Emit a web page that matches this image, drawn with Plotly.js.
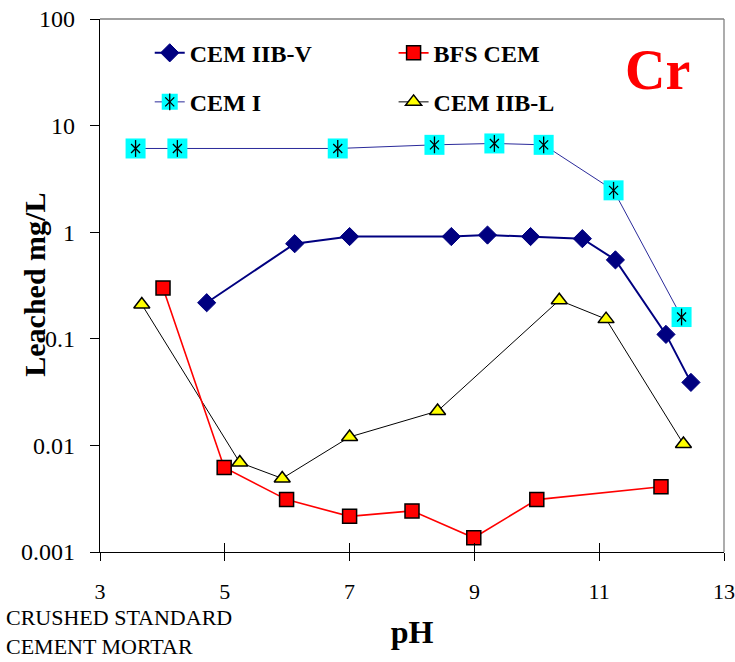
<!DOCTYPE html>
<html>
<head>
<meta charset="utf-8">
<script src="https://cdn.plot.ly/plotly-3.0.1.min.js"></script>
<style>html,body{margin:0;padding:0;background:#fff;}#chart{width:735px;height:662px;}</style>
</head>
<body>
<div id="chart"></div>
<script>
// ---- data ----
const seriesNames = ["CEM IIB-V", "BFS CEM", "CEM I", "CEM IIB-L"];

const phCemIIBV = [4.71, 6.12, 7.0, 8.63, 9.21, 9.90, 10.73, 11.26, 12.07, 12.47];
const crCemIIBV = [0.218, 0.78, 0.91, 0.91, 0.94, 0.91, 0.87, 0.55, 0.11, 0.039];

const phBfsCem = [4.01, 4.99, 5.99, 7.0, 8.0, 8.99, 10.0, 11.99];
const crBfsCem = [0.30, 0.0062, 0.0031, 0.00216, 0.00243, 0.00136, 0.0031, 0.0041];

const phCemI = [3.57, 4.24, 6.81, 8.36, 9.32, 10.11, 11.23, 12.32];
const crCemI = [6.1, 6.1, 6.1, 6.6, 6.8, 6.6, 2.47, 0.16];

const phCemIIBL = [3.67, 5.24, 5.92, 7.0, 8.41, 10.36, 11.11, 12.35];
const crCemIIBL = [0.21, 0.0069, 0.0049, 0.0120, 0.021, 0.23, 0.153, 0.0103];

const yTickVals = [0.001, 0.01, 0.1, 1, 10, 100];
const yTickText = ["0.001", "0.01", "0.1", "1", "10", "100"];
const xTickVals = [3, 5, 7, 9, 11, 13];

const elementLabel = "Cr";
const xTitle = "pH";
const yTitle = "Leached mg/L";
const noteLines = ["CRUSHED STANDARD", "CEMENT MORTAR"];

// ---- styling ----
const SERIF = "Liberation Serif";
const NAVY = "#000080";

const traces = [
  {
    x: phCemI, y: crCemI, name: seriesNames[2], legend: "legend3",
    mode: "lines+markers", type: "scatter",
    line: {color: "#2a2a9a", width: 1},
    marker: {symbol: "square", size: 20, color: "#00FFFF", line: {width: 0}}
  },
  {
    x: phCemI, y: crCemI, name: " ", legend: "legend5",
    mode: "markers", type: "scatter", hoverinfo: "skip",
    marker: {symbol: "x-thin-open", size: 9, color: "#000", line: {color: "#000", width: 1.3}}
  },
  {
    x: phCemI, y: crCemI, name: " ", legend: "legend6",
    mode: "markers", type: "scatter", hoverinfo: "skip",
    marker: {symbol: "line-ns-open", size: 12, color: "#000", line: {color: "#000", width: 1.3}}
  },
  {
    x: phCemIIBL, y: crCemIIBL, name: seriesNames[3], legend: "legend4",
    mode: "lines+markers", type: "scatter",
    line: {color: "#000000", width: 1},
    marker: {symbol: "triangle-up", size: 14, color: "#FFFF00", line: {color: "#000", width: 1.5}}
  },
  {
    x: phBfsCem, y: crBfsCem, name: seriesNames[1], legend: "legend2",
    mode: "lines+markers", type: "scatter",
    line: {color: "#FF0000", width: 1.6},
    marker: {symbol: "square", size: 14, color: "#FF0000", line: {color: "#000", width: 1.5}}
  },
  {
    x: phCemIIBV, y: crCemIIBV, name: seriesNames[0], legend: "legend",
    mode: "lines+markers", type: "scatter",
    line: {color: NAVY, width: 2},
    marker: {symbol: "diamond", size: 14, color: NAVY, line: {color: NAVY, width: 1}}
  },
  // helper trace for the second (inner) x tick set
  {x: [3, 13], y: [1, 1], xaxis: "x2", yaxis: "y", mode: "markers",
   marker: {opacity: 0}, showlegend: false, hoverinfo: "skip"}
];

const legFont = {family: SERIF, size: 24, color: "#000", weight: 700};
function leg(x, y) {
  return {x: x, y: y, xanchor: "left", yanchor: "top", bgcolor: "rgba(0,0,0,0)",
          borderwidth: 0, font: legFont, orientation: "v"};
}
const colX1 = 0.0797, colX2 = 0.4705, rowY1 = 0.978, rowY2 = 0.886;

const layout = {
  width: 735, height: 662,
  margin: {l: 100, r: 11, t: 19, b: 110},
  paper_bgcolor: "#fff", plot_bgcolor: "#fff",
  showlegend: true,
  font: {family: SERIF, color: "#000"},
  xaxis: {
    range: [3, 13], tickvals: xTickVals, ticktext: xTickVals.map(String),
    ticks: "outside", ticklen: 8, tickcolor: "#000", tickwidth: 1,
    showline: true, linecolor: "#000", linewidth: 1.3, mirror: false,
    showgrid: false, zeroline: false,
    tickfont: {family: SERIF, size: 22, color: "#000"},
    ticklabelstandoff: 11, ticklabeloverflow: "allow",
    title: {text: xTitle, font: {family: SERIF, size: 32, color: "#000", weight: 700}, standoff: 18}
  },
  xaxis2: {
    overlaying: "x", anchor: "y", side: "bottom", range: [3, 13], tickvals: xTickVals,
    ticks: "inside", ticklen: 9, tickcolor: "#000", tickwidth: 1,
    showticklabels: false, showline: false, showgrid: false, zeroline: false
  },
  yaxis: {
    type: "log", range: [-3, 2], tickvals: yTickVals, ticktext: yTickText,
    ticks: "outside", ticklen: 9, tickcolor: "#000", tickwidth: 1,
    showline: true, linecolor: "#000", linewidth: 1.3, mirror: false,
    showgrid: false, zeroline: false,
    tickfont: {family: SERIF, size: 24, color: "#000"},
    ticklabelstandoff: 10
  },
  legend: leg(colX1, rowY1),
  legend2: leg(colX2, rowY1),
  legend3: leg(colX1, rowY2),
  legend4: leg(colX2, rowY2),
  legend5: leg(colX1, rowY2),
  legend6: leg(colX1, rowY2),
  shapes: [
    {type: "line", xref: "paper", yref: "paper", x0: 0, x1: 1, y0: 1, y1: 1, line: {color: "#808080", width: 1.3}},
    {type: "line", xref: "paper", yref: "paper", x0: 1, x1: 1, y0: 0, y1: 1, line: {color: "#808080", width: 1.3}}
  ],
  annotations: [
    {text: elementLabel, xref: "paper", yref: "paper", x: 0.894, y: 0.9043, xanchor: "center", yanchor: "middle",
     showarrow: false, font: {family: SERIF, size: 56, color: "#FF0000", weight: 700}},
    {text: yTitle, xref: "paper", yref: "paper", x: -0.1045, y: 0.501, xanchor: "center", yanchor: "middle",
     textangle: -90, showarrow: false, font: {family: SERIF, size: 30, color: "#000", weight: 700}},
    {text: noteLines[0], xref: "paper", yref: "paper", x: -0.152, y: -0.1235, xanchor: "left", yanchor: "middle",
     showarrow: false, borderpad: 0, font: {family: SERIF, size: 22, color: "#000"}},
    {text: noteLines[1], xref: "paper", yref: "paper", x: -0.152, y: -0.1775, xanchor: "left", yanchor: "middle",
     showarrow: false, borderpad: 0, font: {family: SERIF, size: 22, color: "#000"}}
  ]
};

Plotly.newPlot("chart", traces, layout, {displayModeBar: false, staticPlot: true});
</script>
</body>
</html>
